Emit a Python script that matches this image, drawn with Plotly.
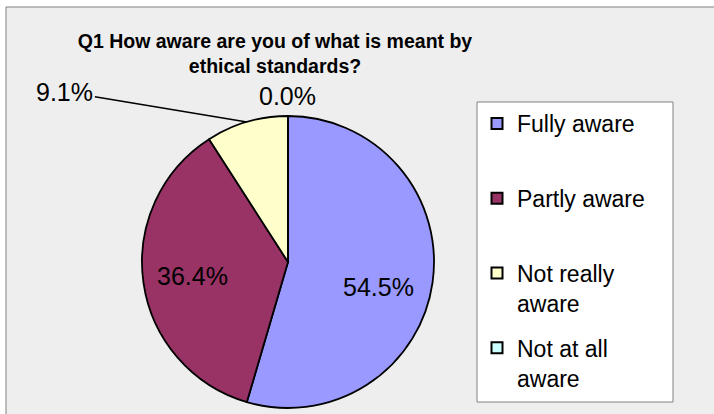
import math
import plotly.graph_objs as go

# data
categories = ['Fully aware', 'Partly aware', 'Not really aware', 'Not at all aware']
legend_names = ['Fully aware', 'Partly aware', 'Not really<br>aware', 'Not at all<br>aware']
counts = [6, 4, 1, 0]
colors = ['#9999FF', '#993366', '#FFFFCC', '#CCFFFF']
title = 'Q1 How aware are you of what is meant by<br>ethical standards?'

W, H = 714, 414
# pie placement in px (centre, radius)
cx, cy, r = 288, 262, 146
# label placement: 'in' -> along the bisector at inside_r*r (+ nudge),
# 'line' -> leader line with px offset, 'top' -> just above the edge
label_mode = ['in', 'in', 'line', 'top']
inside_r = 0.66
label_nudge = [(-5, 11), (0, 0), (-182, -30), (0, 0)]

FONT = 'Liberation Sans, Arial, sans-serif'


def px(x, y):
    return x / W, 1 - y / H


total = float(sum(counts))

fig = go.Figure()
fig.add_trace(go.Pie(
    labels=categories, values=counts, sort=False, direction='clockwise',
    marker=dict(colors=colors, line=dict(color='black', width=1.8)),
    textinfo='none',
    domain=dict(x=[(cx - r) / W, (cx + r) / W], y=[1 - (cy + r) / H, 1 - (cy - r) / H]),
    showlegend=False, hoverinfo='label+percent',
))

# legend entries (one group each so they can be spaced like the original)
for name, col in zip(legend_names, colors):
    if '<br>' not in name:
        name = name + '<br> '
    fig.add_trace(go.Scatter(
        x=[None], y=[None], mode='markers', name=name, legendgroup=name,
        marker=dict(symbol='square', size=11, color=col, line=dict(color='black', width=2)),
    ))

# percentage labels
annotations = []
cum = 0
for i, v in enumerate(counts):
    ang = 2 * math.pi * (cum + v / 2.0) / total
    txt = '%.1f%%' % (100 * v / total)
    lab_font = dict(family=FONT, size=25, color='black')
    dx, dy = label_nudge[i]
    if label_mode[i] == 'in':
        x, y = px(cx + inside_r * r * math.sin(ang) + dx, cy - inside_r * r * math.cos(ang) + dy)
        annotations.append(dict(x=x, y=y, xref='paper', yref='paper', text=txt,
                                xanchor='center', yanchor='middle',
                                showarrow=False, font=lab_font))
    else:
        x, y = px(cx + r * math.sin(ang), cy - r * math.cos(ang))
        if label_mode[i] == 'line':
            annotations.append(dict(x=x, y=y, xref='paper', yref='paper', text=txt,
                                    showarrow=True, arrowhead=0, arrowwidth=1.5,
                                    arrowcolor='black', ax=dx, ay=dy, font=lab_font))
        else:
            annotations.append(dict(x=x, y=y, xref='paper', yref='paper', text=txt,
                                    showarrow=False, xanchor='center', yanchor='bottom',
                                    yshift=4, font=lab_font))
    cum += v

fig.update_layout(
    width=W, height=H,
    margin=dict(l=0, r=0, t=0, b=0),
    paper_bgcolor='white', plot_bgcolor='rgba(0,0,0,0)',
    title=dict(
        text='<b>' + title + '</b>', x=275 / W, xanchor='center',
        y=1 - 48 / H, yanchor='top',
        font=dict(family=FONT, size=19.5, color='black'),
    ),
    xaxis=dict(visible=False), yaxis=dict(visible=False),
    legend=dict(
        x=477 / W, xanchor='left', y=1 - 102 / H, yanchor='top',
        bgcolor='rgba(0,0,0,0)', borderwidth=0,
        font=dict(family=FONT, size=23, color='black'),
        valign='top', tracegroupgap=12, itemclick=False,
    ),
    shapes=[
        # chart area
        dict(type='rect', xref='paper', yref='paper', layer='below',
             x0=6 / W, x1=1.05, y0=-0.05, y1=1 - 7 / H,
             fillcolor='#EEEEEE', line=dict(color='#808080', width=1)),
        # legend box
        dict(type='rect', xref='paper', yref='paper', layer='below',
             x0=477 / W, x1=673 / W, y0=1 - 402 / H, y1=1 - 102 / H,
             fillcolor='white', line=dict(color='#808080', width=1)),
    ],
    annotations=annotations,
)

fig.write_html('out.html', config={'displayModeBar': False},
               post_script="document.body.style.margin='0';")
